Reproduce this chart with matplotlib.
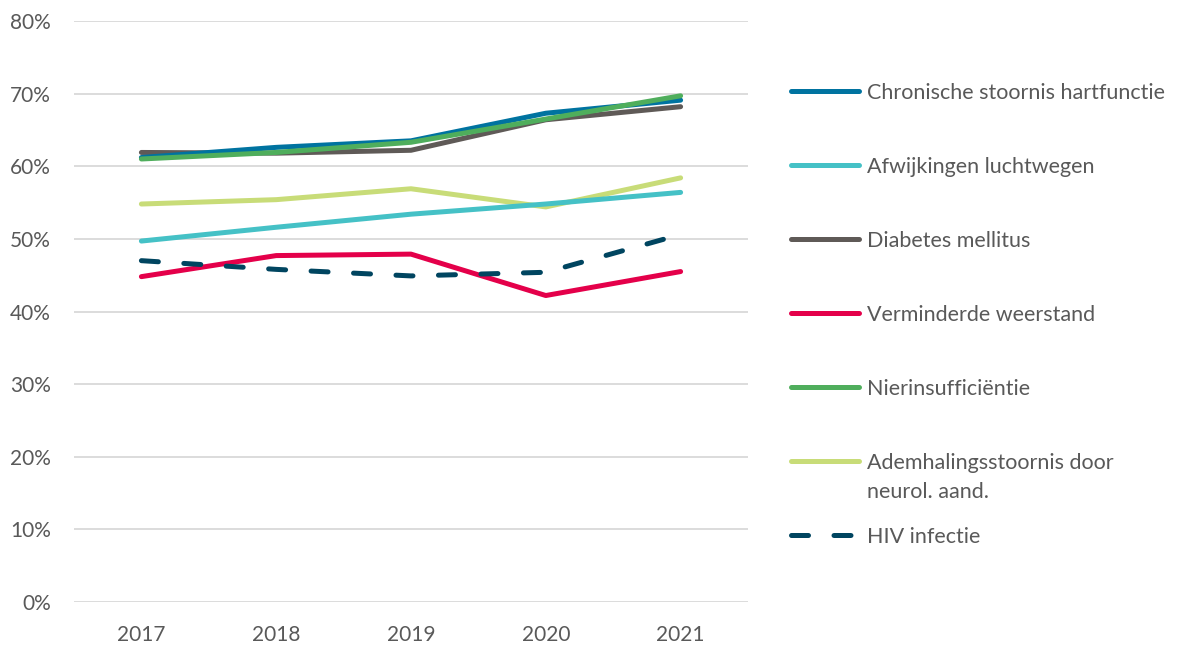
import matplotlib
matplotlib.use("Agg")
import matplotlib.pyplot as plt
from matplotlib.lines import Line2D
from matplotlib.ticker import FuncFormatter

years = ["2017", "2018", "2019", "2020", "2021"]
chronische = [61.2, 62.6, 63.5, 67.3, 69.1]
afwijkingen = [49.7, 51.6, 53.4, 54.8, 56.4]
diabetes = [61.9, 61.8, 62.2, 66.4, 68.2]
verminderde = [44.8, 47.7, 47.9, 42.2, 45.5]
nierinsuff = [61.0, 61.9, 63.3, 66.5, 69.7]
ademhaling = [54.8, 55.4, 56.9, 54.4, 58.4]
hiv = [47.0, 45.8, 44.9, 45.4, 50.6]

labels = ["Chronische stoornis hartfunctie", "Afwijkingen luchtwegen", "Diabetes mellitus",
          "Verminderde weerstand", "Nierinsufficiëntie", "Ademhalingsstoornis door\nneurol. aand.",
          "HIV infectie"]
colors = ["#0073A0", "#45C1C6", "#5F5A57", "#E4004A", "#4FAE5C", "#C8DC78", "#004560"]
series = [chronische, afwijkingen, diabetes, verminderde, nierinsuff, ademhaling, hiv]
dashed = [False, False, False, False, False, False, True]

plt.rcParams['font.family'] = ['Lato', 'DejaVu Sans']
txt = "#595959"

fig = plt.figure(figsize=(11.83, 6.48), dpi=100)
ax = fig.add_axes([74/1183, 1-602/648, (748-74)/1183, (602-21)/648])

x = list(range(len(years)))
lw = 3.6
draw_order = [5, 1, 3, 6, 2, 0, 4]
for i in draw_order:
    ls = (0, (3.4, 5.1)) if dashed[i] else '-'
    ax.plot(x, series[i], color=colors[i], lw=lw, ls=ls, solid_capstyle='round',
            dash_capstyle='round', solid_joinstyle='round', zorder=3)

ax.set_xlim(-0.5, 4.5)
ax.set_ylim(0, 80)
ax.set_yticks(range(0, 81, 10))
ax.yaxis.set_major_formatter(FuncFormatter(lambda v, p: f"{int(v)}%"))
ax.set_xticks(x)
ax.set_xticklabels(years)
ax.grid(axis='y', color='#D9D9D9', lw=1.3, zorder=0)
for s in ax.spines.values():
    s.set_visible(False)
ax.tick_params(length=0, labelsize=15, colors=txt)
ax.tick_params(axis='x', pad=16.5)
ax.tick_params(axis='y', pad=16.5)

# legend
ys = [91, 165, 239, 313, 387, 461, 535]
line_gap = 29
for i, yy in enumerate(ys):
    fy = 1 - yy/648
    ls = (0, (3.4, 5.1)) if dashed[i] else '-'
    fig.add_artist(Line2D([791/1183, 859/1183], [fy, fy], transform=fig.transFigure,
                          color=colors[i], lw=lw, ls=ls, solid_capstyle='round',
                          dash_capstyle='round'))
    for k, part in enumerate(labels[i].split('\n')):
        fig.text(867/1183, 1 - (yy + k*line_gap)/648, part, color=txt, fontsize=15.5,
                 va='center_baseline', ha='left')

fig.savefig("out.png", dpi=100)
